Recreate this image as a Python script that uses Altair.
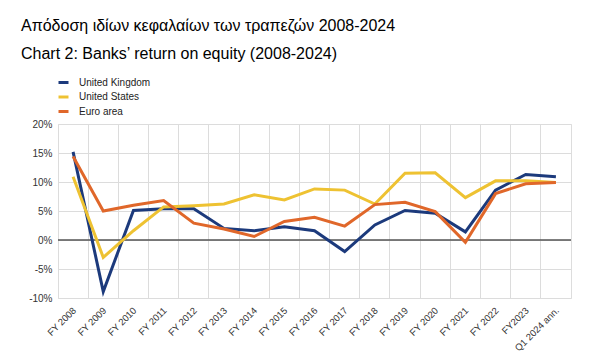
import altair as alt
import pandas as pd

categories = ["FY 2008", "FY 2009", "FY 2010", "FY 2011", "FY 2012", "FY 2013", "FY 2014",
              "FY 2015", "FY 2016", "FY 2017", "FY 2018", "FY 2019", "FY 2020", "FY 2021",
              "FY 2022", "FY2023", "Q1 2024 ann."]
uk = [15.2, -8.9, 5.1, 5.4, 5.4, 2.0, 1.6, 2.3, 1.6, -2.0, 2.6, 5.1, 4.6, 1.4, 8.6, 11.3, 10.9]
us = [10.9, -3.0, 1.6, 5.7, 5.9, 6.2, 7.8, 6.9, 8.8, 8.6, 6.2, 11.5, 11.6, 7.3, 10.2, 10.2, 9.9]
ea = [14.4, 5.0, 6.0, 6.8, 2.9, 1.9, 0.6, 3.2, 3.9, 2.4, 6.1, 6.5, 4.9, -0.4, 8.0, 9.7, 9.9]
series = ["United Kingdom", "United States", "Euro area"]
colors = ["#1c3a7c", "#eec232", "#e0672a"]
y_ticks = [-10, -5, 0, 5, 10, 15, 20]

rows = []
for name, vals in zip(series, [uk, us, ea]):
    for c, v in zip(categories, vals):
        rows.append({"cat": c, "val": v, "series": name})
df = pd.DataFrame(rows)

FONT = "Liberation Sans"

x = alt.X("cat:N", sort=categories, bandPosition=0.5,
          scale=alt.Scale(type="band", paddingInner=0, paddingOuter=0),
          axis=alt.Axis(title=None, labelAngle=-45, labelAlign="right", labelBaseline="top",
                        labelFontSize=9.5, labelFont=FONT, labelColor="#333333",
                        ticks=False, domain=False, grid=True, gridColor="#dcdcdc",
                        bandPosition=0, labelPadding=7, labelOffset=-2, labelOverlap=False))
y_scale = alt.Scale(domain=[-10, 20], nice=False)
y_axis = alt.Axis(title=None, values=y_ticks, labelExpr="datum.value + '%'",
                  labelFontSize=10, labelFont=FONT, labelColor="#333333",
                  ticks=False, domain=False, grid=True, gridColor="#dcdcdc",
                  labelPadding=6, labelOverlap=False, labelFlush=False)

lines = alt.Chart(df).mark_line(strokeWidth=3).encode(
    x=x, y=alt.Y("val:Q", scale=y_scale, axis=y_axis),
    color=alt.Color("series:N", sort=series,
                    scale=alt.Scale(domain=series, range=colors),
                    legend=alt.Legend(title=None, orient="none", legendX=-1, legendY=-48,
                                      symbolType="stroke", symbolStrokeWidth=3, symbolSize=100,
                                      labelFont=FONT, labelFontSize=10, labelColor="#222222",
                                      rowPadding=1.5, labelOffset=9)),
    order=alt.Order("series:N"),
)

zero = alt.Chart(pd.DataFrame({"val": [0]})).mark_rule(color="#555555", strokeWidth=1.5).encode(
    y=alt.Y("val:Q", scale=y_scale, axis=y_axis))

chart = alt.layer(zero, lines).properties(
    width=513, height=174,
    padding={"left": 50, "top": 116, "right": 16, "bottom": 60},
    autosize=alt.AutoSizeParams(type="none"),
    title=alt.TitleParams(
        text="Απόδοση ιδίων κεφαλαίων των τραπεζών 2008-2024",
        subtitle="Chart 2: Banks’ return on equity (2008-2024)",
        anchor="start", frame="group", dx=-37, offset=14,
        font=FONT, fontSize=16, fontWeight="normal", color="#000000",
        subtitleFont=FONT, subtitleFontSize=16, subtitleColor="#000000", subtitlePadding=12,
    ),
).configure_view(stroke="#dcdcdc").configure(background="white")

chart.save("out.html", embed_options={"renderer": "svg", "actions": False})
